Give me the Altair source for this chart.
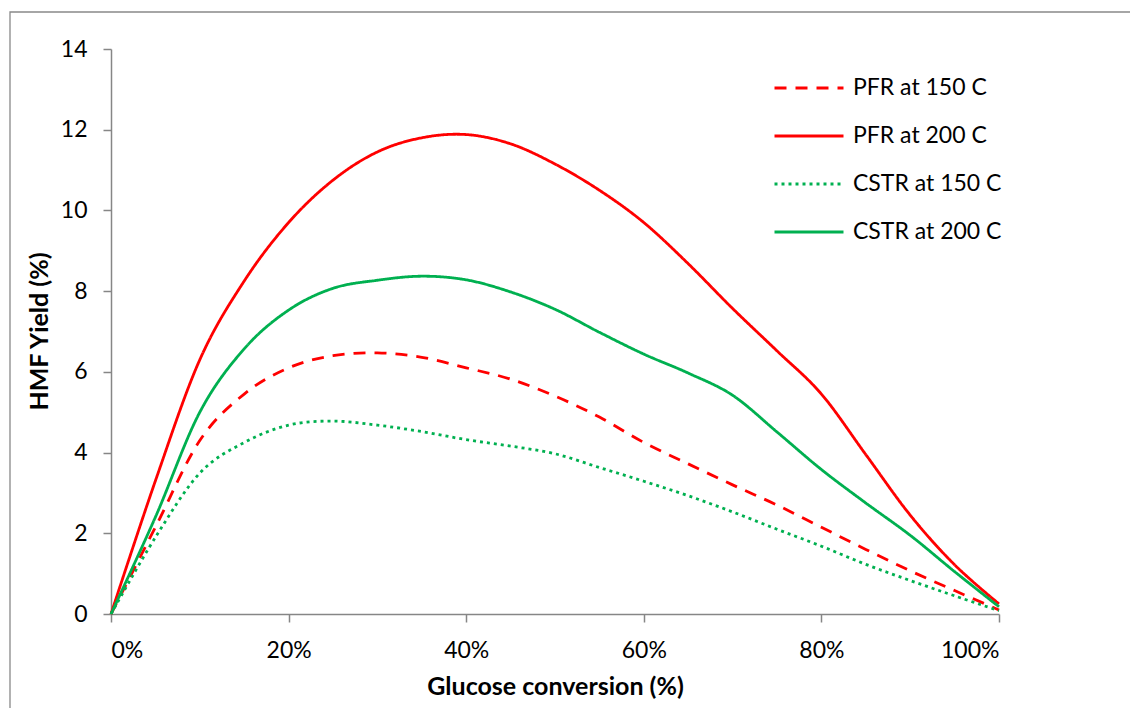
import altair as alt
import pandas as pd

# ---- data ----
conversion = [0.00, 0.05, 0.10, 0.15, 0.20, 0.25, 0.30, 0.35, 0.40, 0.45, 0.50,
              0.55, 0.60, 0.65, 0.70, 0.75, 0.80, 0.85, 0.90, 0.95, 1.00]

series_names = ["PFR at 150 C", "PFR at 200 C", "CSTR at 150 C", "CSTR at 200 C"]

pfr_150 = [0, 2.15, 4.3, 5.45, 6.1, 6.4, 6.47, 6.36, 6.1, 5.82, 5.4,
           4.88, 4.25, 3.72, 3.2, 2.7, 2.15, 1.6, 1.07, 0.58, 0.1]
pfr_200 = [0, 3.3, 6.3, 8.25, 9.7, 10.75, 11.45, 11.8, 11.88, 11.65, 11.15,
           10.5, 9.7, 8.68, 7.57, 6.52, 5.45, 3.95, 2.45, 1.22, 0.25]
cstr_150 = [0, 1.9, 3.49, 4.25, 4.68, 4.78, 4.68, 4.52, 4.32, 4.16, 3.97,
            3.63, 3.29, 2.93, 2.53, 2.1, 1.68, 1.23, 0.83, 0.45, 0.08]
cstr_200 = [0, 2.4, 5.0, 6.57, 7.53, 8.07, 8.27, 8.37, 8.28, 7.98, 7.55,
            6.98, 6.44, 5.97, 5.42, 4.51, 3.58, 2.75, 1.95, 1.05, 0.18]

x_ticks = [0.0, 0.2, 0.4, 0.6, 0.8, 1.0]
y_ticks = [0, 2, 4, 6, 8, 10, 12, 14]

colors = ["#FF0000", "#FF0000", "#00B050", "#00B050"]
dashes = [[12, 9], [1, 0], [3, 4], [1, 0]]

rows = []
for name, vals in zip(series_names, [pfr_150, pfr_200, cstr_150, cstr_200]):
    for c, v in zip(conversion, vals):
        rows.append({"series": name, "conversion": c, "yield": v})
df = pd.DataFrame(rows)

FONT = "Lato"
AXIS_GRAY = "#868686"

legend = alt.Legend(
    title=None,
    orient="none",
    legendX=662,
    legendY=24,
    padding=0,
    symbolType="stroke",
    symbolSize=4761,
    symbolStrokeWidth=3,
    clipHeight=30,
    rowPadding=18,
    labelOffset=8,
    labelFont=FONT,
    labelFontSize=23,
    labelColor="#000000",
    labelLimit=300,
)

lines = alt.Chart(df).mark_line(interpolate="cardinal", strokeWidth=2.8).encode(
    x=alt.X(
        "conversion:Q",
        scale=alt.Scale(domain=[0, 1], nice=False),
        axis=alt.Axis(
            values=x_ticks,
            format=".0%",
            title="Glucose conversion (%)",
            titleY=80,
            titleBaseline="alphabetic",
            labelPadding=17,
        ),
    ),
    y=alt.Y(
        "yield:Q",
        scale=alt.Scale(domain=[0, 14], nice=False),
        axis=alt.Axis(
            values=y_ticks,
            title="HMF Yield (%)",
            titleAngle=270,
            titleX=-64,
            titleY=282,
            titleAlign="center",
            titleBaseline="alphabetic",
            labelPadding=16,
        ),
    ),
    color=alt.Color(
        "series:N",
        scale=alt.Scale(domain=series_names, range=colors),
        legend=legend,
    ),
    strokeDash=alt.StrokeDash(
        "series:N",
        scale=alt.Scale(domain=series_names, range=dashes),
        legend=legend,
    ),
)

border = alt.Chart(pd.DataFrame({"a": [0]})).mark_rect(
    fillOpacity=0, stroke="#898989", strokeWidth=1.3
).encode(
    x=alt.value(-101),
    y=alt.value(-37),
    x2=alt.value(1200),
    y2=alt.value(800),
)

chart = alt.layer(border, lines).properties(
    width=888,
    height=565,
    autosize=alt.AutoSizeParams(type="none"),
    padding={"left": 111, "top": 49, "right": 131, "bottom": 94},
    background="white",
).configure_view(
    strokeOpacity=0
).configure_axis(
    grid=False,
    domainColor=AXIS_GRAY,
    domainWidth=1.5,
    tickColor=AXIS_GRAY,
    tickWidth=1.5,
    tickSize=8,
    labelFont=FONT,
    labelFontSize=23,
    labelColor="#000000",
    titleFont=FONT,
    titleFontSize=25,
    titleFontWeight="bold",
    titleColor="#000000",
)

chart.save("out.html", embed_options={"renderer": "svg", "actions": False})
